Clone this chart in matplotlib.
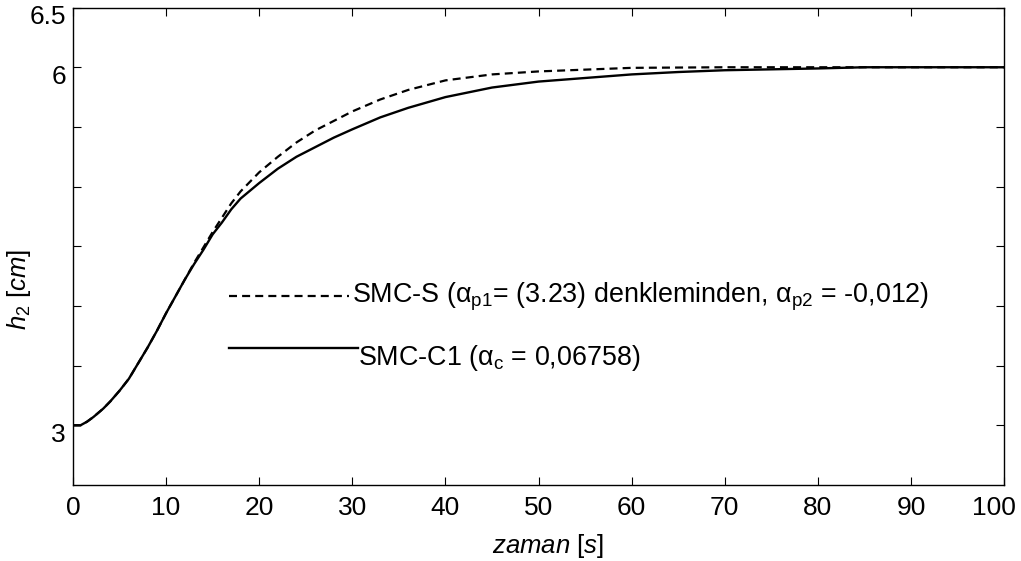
import numpy as np
import matplotlib
matplotlib.use("Agg")
import matplotlib.pyplot as plt
import matplotlib.transforms as mtransforms

plt.rcParams['font.family'] = ['Liberation Sans', 'DejaVu Sans']
plt.rcParams['mathtext.fontset'] = 'custom'
plt.rcParams['mathtext.rm'] = 'Liberation Sans'
plt.rcParams['mathtext.it'] = 'Liberation Sans:italic'
plt.rcParams['mathtext.bf'] = 'Liberation Sans:bold'

# SMC-C1 (solid)
t_c1 = [0, 0.8, 1.5, 2.2, 3.25, 4, 5, 6, 7, 8, 9, 10, 11, 12, 13, 14, 15, 16, 17, 18,
        20, 22, 24, 26, 28, 30, 33, 36, 40, 45, 50, 55, 60, 65, 70, 80, 85, 100]
h_c1 = [3.0, 3.0, 3.03, 3.07, 3.14, 3.2, 3.29, 3.39, 3.52, 3.65, 3.79, 3.94, 4.08, 4.22,
        4.35, 4.47, 4.6, 4.7, 4.81, 4.9, 5.03, 5.15, 5.25, 5.33, 5.41, 5.48, 5.58, 5.66,
        5.75, 5.83, 5.88, 5.91, 5.94, 5.96, 5.975, 5.99, 6.0, 6.0]

# SMC-S (dashed)
t_s = [0, 0.8, 1.5, 2.2, 3.25, 4, 5, 6, 7, 8, 9, 10, 11, 12, 13, 14, 15, 16, 17, 18,
       20, 22, 24, 26, 28, 30, 33, 36, 40, 45, 50, 55, 60, 70, 100]
h_s = [3.0, 3.0, 3.03, 3.07, 3.14, 3.2, 3.29, 3.39, 3.52, 3.65, 3.79, 3.94, 4.08, 4.22,
       4.36, 4.49, 4.62, 4.74, 4.86, 4.96, 5.12, 5.25, 5.37, 5.47, 5.55, 5.63, 5.73,
       5.81, 5.89, 5.94, 5.965, 5.98, 5.995, 6.0, 6.0]

yticks = [3, 3.5, 4, 4.5, 5, 5.5, 6, 6.5]
ytick_labels = ['3', '', '', '', '', '', '6', '6.5']
xticks = list(range(0, 101, 10))

fig = plt.figure(figsize=(10.21, 5.61), dpi=100)
ax = fig.add_axes([0.0715, 0.1355, 0.912, 0.851])

ax.plot(t_s, h_s, color='black', lw=1.6, dashes=(3.6, 2.3))
ax.plot(t_c1, h_c1, color='black', lw=1.7)

ax.set_xlim(0, 100)
ax.set_ylim(2.5, 6.5)
ax.set_xticks(xticks)
ax.set_yticks(yticks)
ax.set_yticklabels(ytick_labels)
ax.tick_params(direction='in', length=6, width=0.8, top=True, right=True,
               labelsize=19)
ax.tick_params(axis='x', pad=8)
ax.tick_params(axis='y', pad=5)
for s in ax.spines.values():
    s.set_linewidth(1.0)

# y labels sit a bit below their ticks, last x label pulled inward
down = mtransforms.ScaledTranslation(0, -0.07, fig.dpi_scale_trans)
for lab in ax.get_yticklabels():
    lab.set_transform(lab.get_transform() + down)
left = mtransforms.ScaledTranslation(-0.1, 0, fig.dpi_scale_trans)
last = ax.get_xticklabels()[-1]
last.set_transform(last.get_transform() + left)

ax.set_xlabel(r'$\mathit{zaman}$ [$\mathit{s}$]', fontsize=18.5)
ax.set_ylabel(r'$\mathit{h}_2$ [$\mathit{cm}$]', fontsize=18.5)
ax.xaxis.set_label_coords(0.5097, -0.098)
ax.yaxis.set_label_coords(-0.043, 0.41)

# legend drawn as lines + text inside the axes
ax.plot([16.7, 29.6], [4.08, 4.08], color='black', lw=1.6, dashes=(3.6, 2.3))
ax.text(30.0, 4.08, r'SMC-S ($\mathrm{\alpha_{p1}}$= (3.23) denkleminden, $\mathrm{\alpha_{p2}}$ = -0,012)',
        fontsize=19.4, va='center', ha='left')
ax.plot([16.7, 30.6], [3.645, 3.645], color='black', lw=1.7)
ax.text(30.6, 3.56, r'SMC-C1 ($\mathrm{\alpha_{c}}$ = 0,06758)',
        fontsize=19.4, va='center', ha='left')

fig.savefig('out.png', dpi=100)
